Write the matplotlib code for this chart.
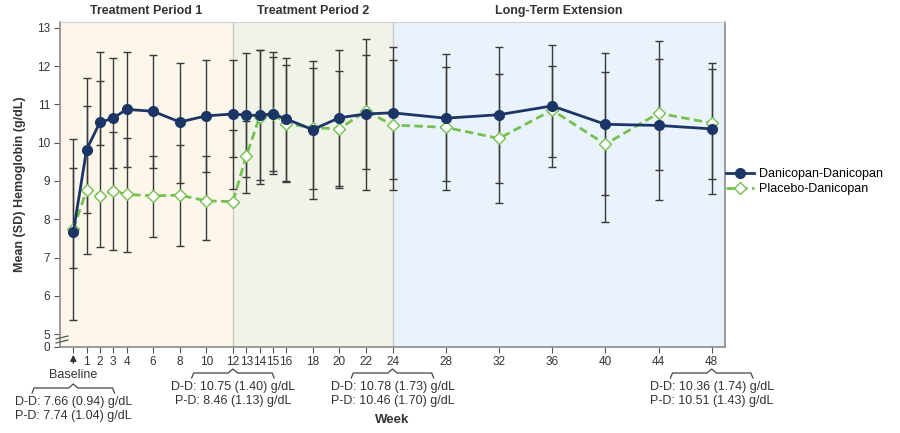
import matplotlib

matplotlib.use("Agg")
import matplotlib.pyplot as plt
from matplotlib.transforms import blended_transform_factory

plt.rcParams["font.family"] = ["Liberation Sans", "DejaVu Sans"]

# --- data ---
weeks = [0, 1, 2, 3, 4, 6, 8, 10, 12, 13, 14, 15, 16, 18, 20, 22, 24, 28, 32, 36, 40, 44, 48]
dd_mean = [7.66, 9.82, 10.53, 10.64, 10.87, 10.82, 10.54, 10.70, 10.75, 10.72, 10.71, 10.75,
           10.62, 10.34, 10.65, 10.75, 10.78, 10.64, 10.73, 10.96, 10.48, 10.45, 10.36]
pd_mean = [7.74, 8.76, 8.61, 8.74, 8.65, 8.61, 8.63, 8.48, 8.46, 9.64, 10.67, 10.75,
           10.50, 10.39, 10.36, 10.83, 10.46, 10.40, 10.11, 10.85, 9.96, 10.77, 10.51]
dd_lo = [5.37, 8.15, 9.93, 9.35, 9.36, 9.33, 8.94, 9.24, 9.62, 9.11, 9.02, 9.18,
         9.00, 8.52, 8.87, 8.77, 9.04, 8.99, 8.94, 9.36, 8.62, 8.50, 8.65]
dd_hi = [10.09, 11.68, 12.36, 12.20, 12.37, 12.29, 12.09, 12.15, 12.15, 12.33, 12.42, 12.36,
         12.22, 12.14, 12.42, 12.71, 12.49, 12.31, 12.51, 12.56, 12.33, 12.66, 12.09]
pd_lo = [6.72, 7.09, 7.27, 7.20, 7.14, 7.54, 7.29, 7.45, 8.78, 8.69, 8.92, 9.27,
         8.98, 8.80, 8.82, 9.32, 8.76, 8.77, 8.43, 9.63, 7.93, 9.29, 9.06]
pd_hi = [9.35, 10.96, 11.62, 10.28, 10.11, 9.65, 9.93, 9.65, 10.33, 10.56, 12.42, 12.23,
         12.03, 11.96, 11.87, 12.29, 12.17, 11.97, 11.79, 12.01, 11.84, 12.19, 11.93]

xtick_pos = weeks
xtick_labels = [""] + [str(w) for w in weeks[1:]]
ytick_vals = [5, 6, 7, 8, 9, 10, 11, 12, 13]

periods = [("Treatment Period 1", -1, 12, "#fdf6ea"),
           ("Treatment Period 2", 12, 24, "#f0f3e7"),
           ("Long-Term Extension", 24, 49, "#eaf3fc")]

summaries = [(0, "D-D: 7.66 (0.94) g/dL", "P-D: 7.74 (1.04) g/dL"),
             (12, "D-D: 10.75 (1.40) g/dL", "P-D: 8.46 (1.13) g/dL"),
             (24, "D-D: 10.78 (1.73) g/dL", "P-D: 10.46 (1.70) g/dL"),
             (48, "D-D: 10.36 (1.74) g/dL", "P-D: 10.51 (1.43) g/dL")]

NAVY = "#1b3567"
GREEN = "#74c050"
BAR = "#3a3a3a"
TXT = "#333333"

W, H = 900, 433
fig = plt.figure(figsize=(9, 4.33), dpi=100)
ax = fig.add_axes([60 / W, 1 - 346.7 / H, 665 / W, 325 / H])

ymin = 4.67
ax.set_xlim(-1, 49)
ax.set_ylim(ymin, 13.16)

for name, x0, x1, col in periods:
    ax.axvspan(x0, x1, color=col, lw=0, zorder=0)
    xc = ax.transData.transform(((x0 + x1) / 2, 0))[0]
    fig.text(xc / W, 1 - 11 / H, name, ha="center", va="center", fontsize=9,
             fontweight="bold", color=TXT)
for x in (12, 24):
    ax.axvline(x, color="#c9c9c9", lw=1, zorder=1)

# error bars
for lo, hi in ((pd_lo, pd_hi), (dd_lo, dd_hi)):
    ax.vlines(weeks, lo, hi, color=BAR, lw=1, zorder=2)
    ax.plot(weeks, lo, "_", ms=6, mew=1, color=BAR, zorder=2)
    ax.plot(weeks, hi, "_", ms=6, mew=1, color=BAR, zorder=2)

ax.plot(weeks, pd_mean, color=GREEN, lw=2, dashes=(3, 1.6), marker="D", ms=6.5,
        mfc="white", mec=GREEN, mew=1, zorder=3, label="Placebo-Danicopan")
ax.plot(weeks, dd_mean, color=NAVY, lw=2, marker="o", ms=7, zorder=4,
        label="Danicopan-Danicopan")

# axes styling
for s in ax.spines.values():
    s.set_color("#d0d0d0")
    s.set_linewidth(0.8)
for s in ("left", "bottom", "right"):
    ax.spines[s].set_color("#8a8a8a")
    ax.spines[s].set_linewidth(1.2)

ax.set_xticks(xtick_pos)
ax.set_xticklabels(xtick_labels)
ax.set_yticks([ymin] + ytick_vals)
ax.set_yticklabels(["0"] + [str(v) for v in ytick_vals])
ax.tick_params(axis="both", length=4, width=0.8, color="#555555", labelsize=8.5,
               labelcolor=TXT, pad=3)

# axis break marks
brk = blended_transform_factory(ax.transAxes, fig.transFigure)
for yp in (337.5, 341.5):
    ax.plot([-0.006, 0.012], [1 - (yp + 1.5) / H, 1 - (yp - 1.5) / H], color="#555555",
            lw=0.9, transform=brk, clip_on=False, zorder=5)

ax.set_ylabel("Mean (SD) Hemoglobin (g/dL)", fontsize=9, fontweight="bold", color=TXT,
              labelpad=8)
fig.text(392 / W, 1 - 420 / H, "Week", ha="center", va="center", fontsize=9.5,
         fontweight="bold", color=TXT)

# baseline arrow and label
bt = blended_transform_factory(ax.transData, fig.transFigure)
ax.annotate("", xy=(0, 1 - 352 / H), xytext=(0, 1 - 366 / H), xycoords=bt, textcoords=bt,
            arrowprops=dict(arrowstyle="-|>", color=TXT, lw=1, mutation_scale=9))
ax.text(0, 1 - 375 / H, "Baseline", transform=bt, ha="center", va="center", fontsize=9,
        color=TXT)


def brace(xc, ytop):
    half = 3.1
    pts_x = [xc - half, xc - half + 0.15, xc - 0.35, xc, xc + 0.35, xc + half - 0.15, xc + half]
    pts_y = [ytop + 5, ytop, ytop, ytop - 4, ytop, ytop, ytop + 5]
    ax.plot(pts_x, [1 - p / H for p in pts_y], color="#444444", lw=0.9, transform=bt,
            clip_on=False)


for xc, l1, l2 in summaries:
    ytop = 388 if xc == 0 else 373
    brace(xc, ytop)
    ax.text(xc, 1 - (ytop + 14) / H, l1, transform=bt, ha="center", va="center",
            fontsize=9, color=TXT)
    ax.text(xc, 1 - (ytop + 28) / H, l2, transform=bt, ha="center", va="center",
            fontsize=9, color=TXT)

h, l = ax.get_legend_handles_labels()
fig.legend(h[::-1], l[::-1], loc="center left", bbox_to_anchor=(726 / W, 1 - 181.5 / H),
           frameon=False, fontsize=9, handlelength=2.2, handletextpad=0.4,
           labelspacing=0.25, borderaxespad=0, borderpad=0)

fig.savefig("out.png", dpi=100)
